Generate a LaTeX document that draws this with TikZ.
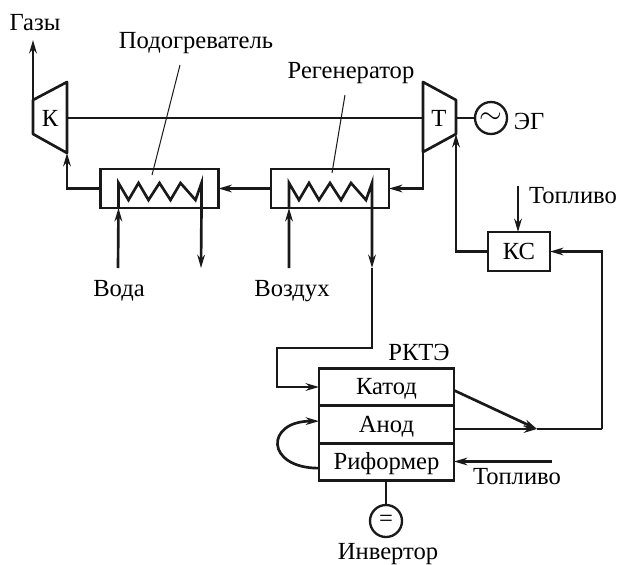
\documentclass[tikz,border=0pt]{standalone}
\usepackage{fontspec}
\setmainfont{Liberation Serif}
\usetikzlibrary{arrows.meta}
\begin{document}
\begin{tikzpicture}[
    x=0.3mm, y=-0.3mm,
    pipe/.style={line width=0.8mm, draw=black!90},
    arr/.style={pipe, -{Stealth[length=4mm, width=2.3mm]}},
    box/.style={rectangle, draw=black!90, line width=0.8mm, outer sep=0pt, inner sep=0pt},
    exch/.style={box, minimum width=35.4mm, minimum height=11.7mm},
    cell/.style={box, minimum width=40.5mm, minimum height=11.2mm, text height=15pt, text depth=1.4pt,
      font=\fontsize{21}{21}\selectfont},
    disc/.style={circle, draw=black!90, line width=0.7mm, minimum size=9.6mm, outer sep=0pt, inner sep=0pt},
    lbl/.style={font=\fontsize{21}{21}\selectfont, inner sep=0pt, yshift=-0.6mm},
    leader/.style={line width=0.3mm, draw=black!90}
  ]
  \useasboundingbox (0,0) rectangle (617,564);
  % Compressor and turbine
  \coordinate (kt) at (33,100);
  \coordinate (kr) at (67,82);
  \coordinate (kb) at (67,153);
  \coordinate (kl) at (33,134);
  \coordinate (tl) at (423,82);
  \coordinate (tr) at (456,100);
  \coordinate (te) at (456,134);
  \coordinate (tb) at (423,152);
  \draw[pipe, line join=round] (kt) -- (kr) -- (kb) -- (kl) -- cycle;
  \draw[pipe, line join=round] (tl) -- (tr) -- (te) -- (tb) -- cycle;
  \node[lbl] (k) at (50,116) {К};
  \node[lbl] (t) at (439,116) {Т};
  \coordinate (shaftk) at (67,118);
  \coordinate (shaftt) at (423,118);
  \draw[pipe] (shaftk) -- (shaftt);
  \coordinate (gasend) at (33,40);
  \draw[arr] (kt) -- (gasend);
  \node[lbl] (gas) at (35,21) {Газы};
  % Generator
  \node[disc] (gen) at (491,118) {\fontsize{28}{28}\selectfont$\sim$};
  \coordinate (shaftg) at (456,118);
  \draw[pipe] (shaftg) -- (gen);
  \node[lbl] (eg) at (529,119) {ЭГ};
  % Heat exchangers
  \node[exch] (pod) at (159.5,188.5) {};
  \node[exch] (reg) at (330,188.5) {};
  \foreach \n in {pod,reg}
    \draw[pipe, line join=miter] (\n.south west) ++(18,0) -- ++(0,-25) -- ++(10,17) -- ++(10,-17)
      -- ++(10,17) -- ++(11,-17) -- ++(11,17) -- ++(10,-17) -- ++(15,17) -- ++(6,-17) -- ++(0,25);
  \node[lbl] (podl) at (196,41) {Подогреватель};
  \node[lbl] (regl) at (351,71) {Регенератор};
  \coordinate (podt) at (180,65);
  \coordinate (podh) at (152,175);
  \coordinate (regt) at (345,95);
  \coordinate (regh) at (332,173);
  \draw[leader] (podt) -- (podh);
  \draw[leader] (regt) -- (regh);
  % Gas path
  \draw[arr] (tb) |- (reg.east);
  \draw[arr] (reg.west) -- (pod.east);
  \draw[arr] (pod.west) -| (kb);
  % Water and air
  \coordinate (wat) at (118,268);
  \coordinate (hot) at (201,268);
  \coordinate (air) at (289,268);
  \coordinate (airm) at (372,268);
  \coordinate (airb) at (372,348);
  \coordinate (aira) at (277,348);
  \draw[arr] (wat) -- ([xshift=5.4mm]pod.south west);
  \draw[arr] ([xshift=30.3mm]pod.south west) -- (hot);
  \draw[arr] (air) -- ([xshift=5.4mm]reg.south west);
  \draw[arr] ([xshift=30.3mm]reg.south west) -- (airm);
  \node[lbl] (wata) at (119,289) {Вода};
  \node[lbl] (aird) at (292,289) {Воздух};
  % Fuel cell
  \node[cell] (kat) at (386.5,387) {Катод};
  \node[cell] (an) at (386.5,424.5) {Анод};
  \node[cell] (rif) at (386.5,461.5) {Риформер};
  \node[lbl] (rkte) at (419,350) {РКТЭ};
  \draw[arr] (airm) -- (airb) -- (aira) |- (kat.west);
  \draw[arr] ([yshift=-2mm]rif.west) .. controls +(-54,0) and (265,421) .. ([yshift=1mm]an.west);
  % Combustor
  \node[box, minimum width=18.6mm, minimum height=11.7mm, text height=15pt, text depth=1.4pt,
    font=\fontsize{21}{21}\selectfont] (ks) at (519,251.5) {КС};
  \coordinate (join) at (537,429);
  \coordinate (ret) at (602,429);
  \draw[arr] ([yshift=-1mm]kat.east) -- (join);
  \draw[arr] (an.east |- join) -- (join);
  \draw[pipe] (join) -- (ret);
  \draw[arr] (ret) |- (ks.east);
  \draw[arr] (ks.west) -| (te);
  \coordinate (fua) at (518,186);
  \draw[arr] (fua) -- (ks.north -| fua);
  \node[lbl] (fual) at (573,194) {Топливо};
  \coordinate (fub) at (552,461.5);
  \draw[arr] (fub) -- (rif.east);
  \node[lbl] (fubl) at (517,475) {Топливо};
  % Inverter
  \node[disc, font=\fontsize{21}{21}\selectfont] (inv) at (386,521) {=};
  \draw[pipe] (rif.south -| inv) -- (inv);
  \node[lbl] (invl) at (388,552) {Инвертор};
\end{tikzpicture}
\end{document}
